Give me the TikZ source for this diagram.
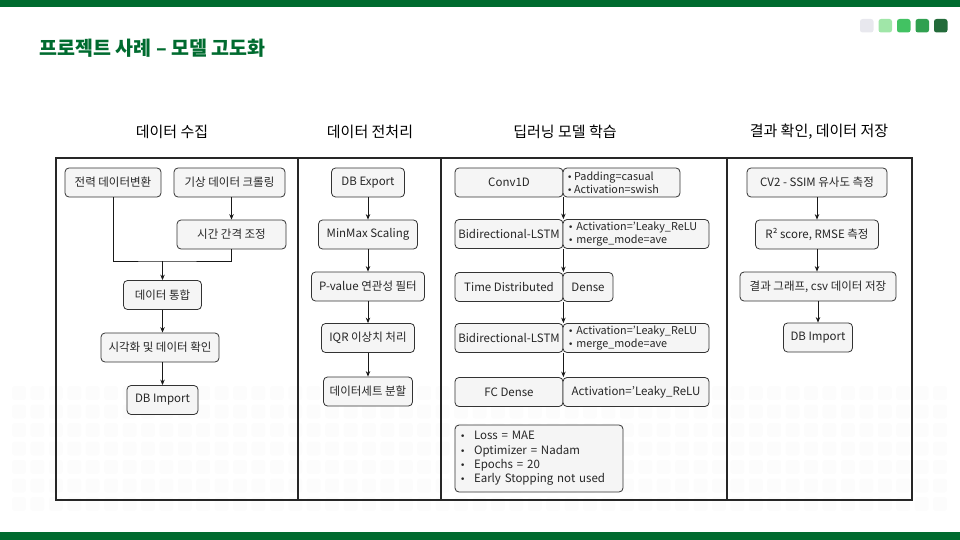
\documentclass[tikz,border=0pt]{standalone}
\usepackage{fontspec}
\setmainfont{Noto Sans CJK KR}
\newfontfamily\symfont{DejaVu Sans}
\usetikzlibrary{arrows.meta}
\definecolor{brand}{HTML}{006B2F}
\definecolor{boxfill}{HTML}{F5F5F5}
\definecolor{boxline}{HTML}{333333}
\definecolor{gridc}{HTML}{FCFCFC}
\definecolor{sqA}{HTML}{E8E8EE}
\definecolor{sqB}{HTML}{A0E6A8}
\definecolor{sqC}{HTML}{42C262}
\definecolor{sqD}{HTML}{30A050}
\definecolor{sqE}{HTML}{236B3A}
\newcommand{\blt}{{\symfont\fontsize{9}{9}\selectfont •}}
\begin{document}
\begin{tikzpicture}[x=1pt,y=-1pt,
  stepbox/.style={draw=boxline, fill=boxfill, rounded corners=4pt, line width=0.8pt,
    inner sep=0pt, minimum height=29pt, text=black!85,
    font=\fontsize{11.5}{13}\selectfont},
  parbox/.style={stepbox, align=left, font=\fontsize{10.8}{12.6}\selectfont},
  colhead/.style={font=\fontsize{15}{17}\selectfont, text=black},
  arr/.style={-{Stealth[length=5.5pt,width=4.5pt]}, line width=0.8pt, black!90},
  link/.style={line width=0.8pt, black!90},
  frameline/.style={line width=1.1pt, black!85}]
\useasboundingbox (0,0) rectangle (960,540);

% faint rounded-square backdrop
\foreach \i in {0,...,50}{
  \foreach \j in {0,...,6}{
    \fill[gridc, rounded corners=2.5pt] (12+\i*18.42,386+\j*18.5) rectangle ++(14,14);
  }
}

% top and bottom bands
\fill[brand] (0,0) rectangle (960,7);
\fill[brand] (0,532) rectangle (960,540);

% title
\node[anchor=west, text=brand, font=\fontsize{19.5}{22}\bfseries\selectfont] (title) at (36,48) {프로젝트 사례 – 모델 고도화};

% progress squares
\foreach \c [count=\k from 0] in {sqA,sqB,sqC,sqD,sqE}{
  \fill[\c, rounded corners=2.5pt] (860+\k*18.5,19) rectangle ++(13.5,13.5);
}

% column headers
\node[colhead] (h1) at (172,132) {데이터 수집};
\node[colhead] (h2) at (370,132) {데이터 전처리};
\node[colhead] (h3) at (565,132) {딥러닝 모델 학습};
\node[colhead] (h4) at (819,132) {결과 확인, 데이터 저장};

% table frame
\draw[frameline] (56,158) rectangle (912,500);
\draw[frameline] (298,158) -- (298,500);
\draw[frameline] (441,158) -- (441,500);
\draw[frameline] (727,158) -- (727,500);

% column 1: data collection
\node[stepbox, minimum width=96pt]  (elec)  at (113,182.5) {전력 데이터변환};
\node[stepbox, minimum width=111pt] (wx)    at (229.5,182.5) {기상 데이터 크롤링};
\node[stepbox, minimum width=109pt] (tint)  at (231.5,234.5) {시간 간격 조정};
\node[stepbox, minimum width=78pt]  (merge) at (162.5,295) {데이터 통합};
\node[stepbox, minimum width=118pt] (viz)   at (160,347.5) {시각화 및 데이터 확인};
\node[stepbox, minimum width=71pt]  (dbi1)  at (162.5,400) {DB Import};
\coordinate (join) at (162.5,261);

\draw[arr] (tint.north |- wx.south) -- (tint.north);
\draw[link] (elec.south) |- (join) -| (tint.south);
\draw[arr] (join) -- (merge.north);
\draw[arr] (merge.south) -- (merge.south |- viz.north);
\draw[arr] (merge.south |- viz.south) -- (dbi1.north);

% column 2: preprocessing
\node[stepbox, minimum width=73pt]  (dbe)   at (368,182.5) {DB Export};
\node[stepbox, minimum width=99pt]  (mms)   at (368,234.5) {MinMax Scaling};
\node[stepbox, minimum width=113pt] (pval)  at (368,286.5) {P-value 연관성 필터};
\node[stepbox, minimum width=93pt]  (iqr)   at (368,338) {IQR 이상치 처리};
\node[stepbox, minimum width=89pt]  (split) at (368,391.5) {데이터세트 분할};

\draw[arr] (dbe.south) -- (mms.north);
\draw[arr] (mms.south) -- (pval.north);
\draw[arr] (pval.south) -- (iqr.north);
\draw[arr] (iqr.south) -- (split.north);

% column 3: deep learning model
\node[stepbox, minimum width=108pt] (conv)  at (509,182.5) {Conv1D};
\node[parbox, minimum width=117pt, text width=109pt, inner xsep=4pt] (convp) at (621.5,182.5)
  {\blt\,Padding=casual\\\blt\,Activation=swish};
\node[stepbox, minimum width=108pt] (bil1)  at (509,234) {Bidirectional-LSTM};
\node[parbox, minimum width=146pt, text width=136pt, inner xsep=5pt] (bil1p) at (636,234)
  {\blt\;Activation='Leaky\_ReLU\\\blt\;merge\_mode=ave};
\node[stepbox, minimum width=108pt] (td)    at (509,287) {Time Distributed};
\node[stepbox, minimum width=50pt]  (dense) at (588,287) {Dense};
\node[stepbox, minimum width=108pt] (bil2)  at (509,338) {Bidirectional-LSTM};
\node[parbox, minimum width=146pt, text width=136pt, inner xsep=5pt] (bil2p) at (636,338)
  {\blt\;Activation='Leaky\_ReLU\\\blt\;merge\_mode=ave};
\node[stepbox, minimum width=108pt] (fc)    at (509,392) {FC Dense};
\node[stepbox, minimum width=146pt] (fcp)   at (636,392) {Activation='Leaky\_ReLU};
\node[stepbox, align=left, text width=158pt, inner xsep=5pt, minimum height=67pt,
  font=\fontsize{11.5}{14.4}\selectfont] (hyper) at (539,458.5)
  {\makebox[14pt][l]{\blt}Loss = MAE\\
   \makebox[14pt][l]{\blt}Optimizer = Nadam\\
   \makebox[14pt][l]{\blt}Epochs = 20\\
   \makebox[14pt][l]{\blt}Early Stopping not used};

\draw[arr] (conv.south east) -- (bil1.north east);
\draw[arr] (bil1.south east) -- (td.north east);
\draw[arr] (td.south east) -- (bil2.north east);
\draw[arr] (bil2.south east) -- (fc.north east);

% column 4: results and storage
\node[stepbox, minimum width=140pt] (ssim) at (817,182.5) {CV2 - SSIM 유사도 측정};
\node[stepbox, minimum width=123pt] (r2)   at (817,234.5) {R² score, RMSE 측정};
\node[stepbox, minimum width=156pt] (save) at (818,286.5) {결과 그래프, csv 데이터 저장};
\node[stepbox, minimum width=69pt]  (dbi2) at (818,337.5) {DB Import};

\draw[arr] (ssim.south) -- (ssim.south |- r2.north);
\draw[arr] (r2.south) -- (r2.south |- save.north);
\draw[arr] (save.south) -- (dbi2.north);
\end{tikzpicture}
\end{document}
